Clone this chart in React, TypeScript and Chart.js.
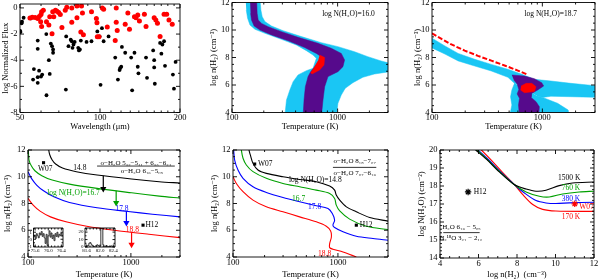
import React, { useEffect, useRef } from "react";
import { Chart, registerables } from "chart.js";

Chart.register(...registerables);

const W = 600;
const H = 279;
const FONT = "'Liberation Serif', 'DejaVu Serif', serif";
const CYAN = "#1ac6f4";
const PURPLE = "#560a8c";
const RED = "#ff0000";
const GREEN = "#00a000";
const BLUE = "#0000ff";
const BLACK = "#000000";

// ---------- Panel 1 : normalized fluxes ----------
const P1_BLACK_WL = [50.2, 50.1, 50.7, 50.9, 51.6, 54.9, 56.0, 56.4, 58.3, 58.3, 58.3, 58.3, 59.0, 60.0, 60.6, 62.9, 62.8, 64.2, 64.7, 65.3, 66.0, 66.6, 66.6, 74.4, 74.6, 76.1, 77.6, 78.3, 78.8, 79.5, 80.3, 82.8, 83.3, 84.0, 84.7, 89.0, 92.9, 97.7, 99.7, 101.7, 100.5, 103.2, 107.7, 114.1, 116.8, 118.5, 119.1, 120.2, 120.9, 124.4, 131.0, 132.1, 134.8, 138.7, 139.5, 149.0, 150.3, 158.5, 159.9, 159.9, 160.8, 168.3, 170.2, 171.7, 174.2, 175.6, 188.1, 189.8, 192.5];
const P1_BLACK_F = [-1.85, -1.75, -1.18, -1.05, -0.75, -0.8, -5.48, -4.68, -2.5, -3.13, -5.3, -5.73, -4.8, -5.25, -5.1, -6.68, -2.0, -4.0, -5.05, -2.73, -2.93, -3.18, -3.43, -6.25, -2.18, -2.93, -2.43, -2.55, -3.05, -2.8, -2.6, -3.05, -3.25, -3.18, -2.5, -2.6, -2.55, -1.8, -2.18, -1.55, -5.88, -2.55, -2.18, -3.8, -5.48, -4.75, -4.6, -4.5, -2.98, -3.43, -3.8, -6.3, -3.43, -4.5, -5.0, -3.8, -5.35, -3.25, -4.0, -4.55, -5.8, -2.68, -3.5, -2.8, -2.55, -4.43, -5.1, -6.18, -4.13];
const P1_RED_WL = [57.0, 58.3, 59.1, 60.0, 60.3, 61.2, 59.8, 60.3, 62.9, 64.2, 64.7, 66.0, 66.4, 67.0, 68.0, 68.9, 69.9, 70.9, 71.9, 74.0, 75.0, 78.3, 78.3, 81.9, 81.9, 85.2, 84.7, 85.9, 86.6, 92.9, 96.9, 97.4, 97.7, 99.1, 102.0, 103.2, 106.5, 115.1, 115.1, 116.1, 114.1, 127.3, 124.4, 129.1, 134.8, 136.7, 138.7, 140.7, 146.9, 149.0, 159.9, 162.2, 164.5, 168.3, 174.2, 178.2, 181.8, 187.0, 54.5, 55.6];
const P1_RED_F = [-0.73, -0.8, -0.65, -0.5, -0.3, -0.18, -1.05, -1.43, -1.05, -1.3, -0.68, -1.98, -0.3, -0.68, -0.18, -0.25, -0.35, -0.5, -1.5, -0.18, 0.05, 0.0, -1.1, 0.15, -0.75, 0.15, -1.85, -0.38, -2.05, -0.3, -0.8, -1.13, -2.2, -2.2, 0.0, -0.1, -1.45, 0.0, -1.1, -1.73, -2.5, -0.38, -1.25, -1.63, -0.68, -0.75, -0.55, -1.0, -0.48, -1.43, -0.75, -0.93, -1.18, -2.18, -0.48, -0.48, -0.93, -1.25, -0.78, -0.72];
const WL_LABELS = [50, 100, 200];
const FLUX_LABELS = [-8, -6, -4, -2, 0];

// ---------- Panel 2 : log N = 16.0 regions ----------
const P2_CYAN_T = [134.5, 183.7, 187.7, 193.3, 204.8, 236.7, 305, 454, 701, 1007, 1447, 1933, 2582, 3100, 3100, 2234, 1734, 1395, 1181, 1083, 1007, 971, 316, 328, 353, 379, 422, 506, 585, 629, 585, 506, 407, 294, 205, 165, 148, 140.5, 136.5];
const P2_CYAN_N = [12.3, 12.3, 11.45, 10.97, 10.61, 10.29, 9.95, 9.52, 9.08, 8.79, 8.42, 8.06, 7.75, 7.58, 6.97, 6.8, 6.56, 6.17, 5.76, 5.27, 4.67, 3.7, 3.7, 4.91, 5.64, 6.24, 6.73, 7.04, 7.21, 7.94, 8.18, 8.5, 8.91, 9.32, 9.76, 10.05, 10.36, 10.85, 11.45];
const P2_PURPLE_T = [148, 171, 173, 177, 190.5, 220, 294, 422, 652, 871, 1083, 1164, 1123, 1007, 811, 754, 727, 701, 471, 481, 495, 525, 556, 607, 676, 701, 629, 488, 340, 237, 184, 162, 153, 150];
const P2_PURPLE_N = [12.3, 12.3, 11.21, 10.73, 10.48, 10.24, 9.88, 9.47, 9.03, 8.67, 8.3, 7.82, 7.33, 6.97, 6.61, 5.88, 4.91, 3.7, 3.7, 4.91, 5.88, 6.61, 6.97, 7.33, 7.82, 8.06, 8.3, 8.72, 9.22, 9.64, 10.0, 10.29, 10.73, 11.21];
const P2_RED_T = [676, 754, 743, 676, 572, 556, 607, 652];
const P2_RED_N = [8.18, 8.0, 7.45, 7.09, 6.8, 6.9, 7.33, 7.75];

// ---------- Panel 3 : log N = 18.7 regions ----------
const P3_BAND_T = [98, 130.9, 172.7, 243.9, 344.7, 487.3, 642.4, 600, 559.4, 487.3, 344.7, 243.9, 172.7, 130.9, 98];
const P3_BAND_N = [9.45, 8.84, 8.3, 7.87, 7.5, 7.14, 6.8, 6.3, 6.12, 6.56, 7.02, 7.38, 7.75, 8.25, 8.73];
const P3_WING_T = [559.4, 642.4, 847.1, 1197, 1813, 3100, 3100, 1813, 1197, 1007, 900];
const P3_WING_N = [6.12, 6.8, 6.41, 6.29, 6.12, 5.94, 5.1, 5.15, 5.18, 5.1, 5.2];
const P3_LOW_T = [900, 1007, 1374, 1715, 1751, 504.4, 529.3, 514.9, 529.3, 559.4];
const P3_LOW_N = [5.2, 5.1, 4.67, 4.18, 3.7, 3.7, 4.55, 5.15, 5.64, 6.12];
const P3_PURPLE_T = [529.3, 688.4, 847.1, 986.3, 1028, 907.8, 801.6, 790.6, 877, 939.7, 926.8, 620.6, 607.8, 620.6, 591.2, 612.1, 591.2, 551.7];
const P3_PURPLE_N = [6.73, 6.65, 6.46, 6.17, 5.93, 5.64, 5.39, 5.1, 4.79, 4.42, 3.7, 3.7, 4.55, 5.03, 5.35, 5.68, 6.07, 6.36];
const P3_RED_T = [642, 713, 802, 877, 847, 688, 634];
const P3_RED_N = [5.93, 6.12, 6.12, 5.88, 5.52, 5.44, 5.64];
const P3_DASH_T = [100, 122, 150, 198, 261, 345, 455, 600, 738];
const P3_DASH_N = [9.76, 9.35, 8.95, 8.5, 8.12, 7.77, 7.42, 7.05, 6.75];

// ---------- Panel 4 : curves ----------
const P4_BLACK_T = [157.5, 159, 163, 171.8, 185.5, 216.5, 295, 469, 1015, 1887, 3000];
const P4_BLACK_N = [12.5, 12.0, 11.63, 11.25, 10.95, 10.65, 10.38, 10.13, 9.83, 9.63, 9.53];
const P4_GREEN_T = [100.5, 102.3, 108, 116.7, 136.2, 171.8, 252.7, 469, 1015, 1887, 3000];
const P4_GREEN_N = [12.3, 11.25, 10.8, 10.45, 10.08, 9.75, 9.45, 9.13, 8.8, 8.55, 8.4];
const P4_BLUE_T = [100, 108, 121.3, 141.6, 178.5, 252.7, 469, 940, 1619, 3000];
const P4_BLUE_N = [10.38, 9.88, 9.38, 8.95, 8.5, 8.08, 7.68, 7.4, 7.2, 7.0];
const P4_RED_T = [100, 112.3, 131, 165.3, 234, 372, 690, 1494, 3000];
const P4_RED_N = [8.38, 7.88, 7.43, 7.0, 6.63, 6.3, 6.0, 5.7, 5.45];
const P4_ARROW_T = [539, 719, 904, 1015];
const P4_ARROW_TOP = [10.08, 8.95, 7.42, 5.85];
const P4_ARROW_BOT = [9.1, 8.05, 6.55, 4.93];
const P4_MARK_T = [141.6, 1312];
const P4_MARK_N = [11.05, 6.38];

// insets of panel 4
const IN1_WL = [75.56, 75.59, 75.62, 75.65, 75.68, 75.71, 75.74, 75.77, 75.8, 75.83, 75.86, 75.89, 75.92, 75.95, 75.98, 76.01, 76.04, 76.07, 76.1, 76.13, 76.16, 76.19, 76.22, 76.25, 76.28, 76.31, 76.34, 76.37, 76.4, 76.43];
const IN1_F = [0.3, 0.6, 0.1, 0.8, 0.5, 0.2, 0.9, 0.6, 1.1, 0.4, 0.8, 0.2, -0.6, 0.7, -0.9, 0.5, 1.2, 0.3, 0.9, 0.1, 0.6, -0.2, 0.8, 0.4, 1.0, 0.3, 0.7, 0.5, 0.9, 0.4];
const IN2_WL = [81.56, 81.59, 81.62, 81.65, 81.68, 81.71, 81.74, 81.77, 81.8, 81.83, 81.86, 81.89, 81.92, 81.95, 81.98, 82.01, 82.04, 82.07, 82.1, 82.13, 82.16, 82.19, 82.22, 82.25, 82.28, 82.31, 82.34, 82.37, 82.4, 82.43];
const IN2_F = [1, 0.5, 1.5, 2, 5, 6, 4, 2, 1, 0.5, 1, 2, 3, 2, 1, 1.5, 26, 26, 3, 1, 0.5, 2, 1, 0.5, 1, 0.5, 1.5, 1, 0.5, 1];

// ---------- Panel 5 : curves ----------
const P5_BLACK_T = [140, 142, 146.3, 155.1, 173, 207.7, 299.5, 431.8, 621.7, 834, 930, 964, 1040, 1204, 1497, 2006, 3000];
const P5_BLACK_N = [12.5, 12.0, 11.63, 11.0, 10.5, 10.25, 10.0, 9.8, 9.63, 9.3, 9.0, 8.63, 8.25, 7.75, 7.38, 6.95, 6.68];
const P5_GREEN_T = [118.5, 120.1, 124.6, 134, 155.1, 207.7, 299.5, 431.8, 621.7, 834, 930, 964, 1040, 1293, 1864, 3000];
const P5_GREEN_N = [12.5, 12.0, 11.38, 10.88, 10.38, 9.88, 9.5, 9.25, 9.0, 8.75, 8.38, 7.88, 7.45, 6.83, 6.3, 6.05];
const P5_BLUE_T = [101.5, 103.7, 111.6, 124.6, 155.1, 207.7, 299.5, 431.8, 621.7, 804, 884, 930, 896, 930, 1118, 1497, 2158, 3000];
const P5_BLUE_N = [12.0, 11.25, 10.5, 9.88, 9.25, 8.83, 8.45, 8.13, 7.83, 7.63, 7.25, 6.75, 6.38, 6.2, 5.88, 5.55, 5.38, 5.25];
const P5_RED_T = [100, 107.6, 124.6, 155.1, 207.7, 299.5, 431.8, 621.7, 774.9, 852, 866, 834, 834, 896, 1118, 1497];
const P5_RED_N = [10.0, 9.5, 8.88, 8.25, 7.75, 7.38, 7.0, 6.63, 6.3, 5.95, 5.5, 5.0, 4.7, 4.58, 4.38, 4.0];
const P5_MARK_T = [160.9, 1497];
const P5_MARK_N = [10.95, 6.38];

// ---------- Panel 6 : column density vs density ----------
const P6_BLACK_X = [5.75, 5.858, 6.409, 7.097, 7.871, 8.473, 8.989, 9.505, 10.19, 10.88, 12];
const P6_BLACK_Y = [20.1, 20, 19.49, 18.77, 18.07, 17.83, 17.71, 17.76, 18.02, 18.17, 18.22];
const P6_GREEN_X = [5.82, 5.927, 6.443, 7.131, 7.871, 8.473, 9.161, 9.677, 10.37, 11.23, 12];
const P6_GREEN_Y = [20.1, 20, 19.49, 18.77, 18.07, 17.67, 17.43, 17.39, 17.56, 17.67, 17.71];
const P6_BLUE_X = [5.87, 5.978, 6.495, 7.166, 7.871, 8.387, 8.989, 9.505, 10.02, 10.71, 12];
const P6_BLUE_Y = [20.1, 20, 19.49, 18.77, 18.07, 17.61, 17.19, 17.06, 17.03, 17.06, 17.1];
const P6_RED_X = [6.05, 6.151, 6.615, 7.234, 7.871, 8.301, 8.817, 9.333, 10.02, 12];
const P6_RED_Y = [20.1, 20, 19.49, 18.77, 18.07, 17.52, 16.97, 16.7, 16.61, 16.59];
const P6_H12_X = [5.46];
const P6_H12_Y = [17.67];
const P6_W07_X = [11.0];
const P6_W07_Y = [17.01];

// ---------- ticks ----------
const T_TICKS = [100, 200, 300, 400, 500, 600, 700, 800, 900, 1000, 2000, 3000];
const T_LABELS = [100, 1000];
const N_LABELS = [4, 6, 8, 10, 12];
const COL_LABELS = [14, 15, 16, 17, 18, 19, 20];

function seq(a: number, b: number, s: number): number[] {
  const out: number[] = [];
  const n = Math.round((b - a) / s);
  for (let i = 0; i <= n; i++) out.push(+(a + i * s).toFixed(6));
  return out;
}
function pts(xs: number[], ys: number[]) {
  return xs.map((x, i) => ({ x, y: ys[i] }));
}

type Box = { l: number; t: number; r: number; b: number };
interface AxisSpec {
  type: "linear" | "logarithmic";
  min: number;
  max: number;
  ticks: number[];
  labels: number[];
  title?: string;
  fmt?: (v: number) => string;
}
interface PanelSpec {
  box: Box;
  yW: number;
  xH: number;
  x: AxisSpec;
  y: AxisSpec;
  datasets: any[];
  notes: any[];
  regions?: any[];
  size: number;
  noteSize: number;
  xPad: number;
  yPad: number;
  major: number;
  minor: number;
  bare?: boolean;
}

// fills polygon regions given in data units, through the chart's own scales, beneath the datasets
const regionsPlugin = {
  id: "regions",
  beforeDatasetsDraw(chart: any, _args: any, opts: any) {
    const items = opts.items || [];
    if (!items.length) return;
    const { ctx, chartArea: a } = chart;
    const xs = chart.scales.x;
    const ys = chart.scales.y;
    ctx.save();
    ctx.beginPath();
    ctx.rect(a.left, a.top, a.right - a.left, a.bottom - a.top);
    ctx.clip();
    for (const it of items) {
      const X: number[] = it.xs;
      const Y: number[] = it.ys;
      ctx.beginPath();
      for (let i = 0; i < X.length; i++) {
        const px = xs.getPixelForValue(X[i]);
        const py = ys.getPixelForValue(Y[i]);
        if (i === 0) ctx.moveTo(px, py);
        else ctx.lineTo(px, py);
      }
      ctx.closePath();
      ctx.fillStyle = it.color;
      ctx.fill();
      ctx.strokeStyle = it.color;
      ctx.lineWidth = 0.5;
      ctx.stroke();
    }
    ctx.restore();
  },
};

const framePlugin = {
  id: "frame",
  afterDatasetsDraw(chart: any, _args: any, opts: any) {
    if (opts.skip) return;
    const { ctx, chartArea: a } = chart;
    const xs = chart.scales.x;
    const ys = chart.scales.y;
    const maj = opts.major ?? 4;
    const mn = opts.minor ?? 2;
    ctx.save();
    ctx.strokeStyle = "#000";
    ctx.lineWidth = opts.lineWidth ?? 1;
    ctx.beginPath();
    ctx.rect(a.left, a.top, a.right - a.left, a.bottom - a.top);
    for (const t of xs.ticks) {
      const p = xs.getPixelForValue(t.value);
      if (p < a.left - 0.5 || p > a.right + 0.5) continue;
      const L = t.isMajor ? maj : mn;
      ctx.moveTo(p, a.bottom);
      ctx.lineTo(p, a.bottom - L);
      ctx.moveTo(p, a.top);
      ctx.lineTo(p, a.top + L);
    }
    for (const t of ys.ticks) {
      const p = ys.getPixelForValue(t.value);
      if (p < a.top - 0.5 || p > a.bottom + 0.5) continue;
      const L = t.isMajor ? maj : mn;
      ctx.moveTo(a.left, p);
      ctx.lineTo(a.left + L, p);
      ctx.moveTo(a.right, p);
      ctx.lineTo(a.right - L, p);
    }
    ctx.stroke();
    ctx.restore();
  },
};

const notesPlugin = {
  id: "notes",
  afterDatasetsDraw(chart: any, _args: any, opts: any) {
    const items = opts.items || [];
    const { ctx } = chart;
    const xs = chart.scales.x;
    const ys = chart.scales.y;
    ctx.save();
    for (const it of items) {
      const color = it.color || "#000";
      if (it.rule) {
        const y = ys.getPixelForValue(it.y);
        ctx.strokeStyle = color;
        ctx.lineWidth = 0.8;
        ctx.beginPath();
        ctx.moveTo(xs.getPixelForValue(it.x1), y);
        ctx.lineTo(xs.getPixelForValue(it.x2), y);
        ctx.stroke();
      } else {
        ctx.fillStyle = color;
        ctx.font = `${it.size || opts.size || 7.5}px ${FONT}`;
        ctx.textAlign = it.align || "center";
        ctx.textBaseline = "middle";
        ctx.fillText(it.text, xs.getPixelForValue(it.x), ys.getPixelForValue(it.y));
      }
    }
    ctx.restore();
  },
};

function makeAxis(o: AxisSpec, horizontal: boolean, size: number, fit: number, pad: number, bare: boolean) {
  const isLab = (v: number) => o.labels.some((l) => Math.abs(l - v) < 1e-9);
  return {
    type: o.type,
    min: o.min,
    max: o.max,
    position: horizontal ? "bottom" : "left",
    grid: { display: false, drawTicks: false },
    border: { display: false },
    ticks: {
      display: !bare,
      autoSkip: false,
      maxRotation: 0,
      minRotation: 0,
      padding: pad,
      color: "#000",
      font: { family: FONT, size },
      callback: (v: any) => {
        const n = Number(v);
        if (!isLab(n)) return "";
        return o.fmt ? o.fmt(n) : String(n);
      },
    },
    title:
      o.title && !bare
        ? {
            display: true,
            text: o.title,
            color: "#000",
            font: { family: FONT, size, lineHeight: 1 },
            padding: { top: 0, bottom: 0 },
          }
        : { display: false },
    afterBuildTicks: (s: any) => {
      s.ticks = o.ticks
        .filter((v) => v >= o.min - 1e-9 && v <= o.max + 1e-9)
        .map((v) => ({ value: v, isMajor: isLab(v) }));
    },
    afterFit: (s: any) => {
      if (horizontal) s.height = fit;
      else s.width = fit;
      s.paddingLeft = 0;
      s.paddingRight = 0;
      s.paddingTop = 0;
      s.paddingBottom = 0;
    },
  };
}

function makeConfig(s: PanelSpec): any {
  const bare = !!s.bare;
  return {
    type: "scatter",
    data: { datasets: s.datasets },
    options: {
      responsive: false,
      animation: false,
      devicePixelRatio: 1,
      events: [],
      layout: {
        padding: {
          left: s.box.l - s.yW,
          top: s.box.t,
          right: W - s.box.r,
          bottom: H - s.box.b - s.xH,
        },
      },
      plugins: {
        legend: { display: false },
        tooltip: { enabled: false },
        regions: { items: s.regions || [] },
        frame: { major: s.major, minor: s.minor, lineWidth: 0.9, skip: bare },
        notes: { items: s.notes, size: s.noteSize },
      },
      scales: {
        x: makeAxis(s.x, true, s.size, s.xH, s.xPad, bare),
        y: makeAxis(s.y, false, s.size, s.yW, s.yPad, bare),
      },
    },
    plugins: [regionsPlugin, framePlugin, notesPlugin],
  };
}

const poly = (xs: number[], ys: number[], color: string, order: number) => ({
  data: pts(xs, ys),
  showLine: true,
  fill: "shape",
  backgroundColor: color,
  borderColor: color,
  borderWidth: 0.5,
  pointRadius: 0,
  tension: 0,
  order,
});
const curve = (xs: number[], ys: number[], color: string, extra: any = {}) => ({
  data: pts(xs, ys),
  showLine: true,
  fill: false,
  borderColor: color,
  borderWidth: 1.1,
  pointRadius: 0,
  tension: 0.3,
  order: 1,
  ...extra,
});
const dots = (xs: number[], ys: number[], color: string, r: number, style = "circle", order = 0) => ({
  data: pts(xs, ys),
  showLine: false,
  pointRadius: r,
  pointStyle: style,
  pointBackgroundColor: color,
  pointBorderColor: color,
  pointBorderWidth: style === "star" ? 1.2 : 0,
  order,
});
function arrows(i: number, color: string) {
  return [
    curve([P4_ARROW_T[i], P4_ARROW_T[i]], [P4_ARROW_TOP[i], P4_ARROW_BOT[i]], color, { tension: 0, borderWidth: 1.2 }),
    {
      data: pts([P4_ARROW_T[i]], [P4_ARROW_BOT[i]]),
      showLine: false,
      pointRadius: 3.6,
      pointStyle: "triangle",
      pointRotation: 180,
      pointBackgroundColor: color,
      pointBorderColor: color,
      pointBorderWidth: 0,
      order: 0,
    },
  ];
}

const TEMP_AXIS: AxisSpec = { type: "logarithmic", min: 100, max: 3000, ticks: T_TICKS, labels: T_LABELS, title: "Temperature (K)" };
const NH2_AXIS: AxisSpec = { type: "linear", min: 4, max: 12, ticks: seq(4, 12, 0.5), labels: N_LABELS, title: "log n(H₂) (cm⁻³)" };
const BASE = { size: 8.5, noteSize: 7.5, xPad: 0.5, yPad: 2.5, major: 4, minor: 2 };
const P3_GEOM = { box: { l: 432, t: 2.5, r: 595, b: 112.5 }, yW: 18.25, xH: 18.75 };

const SPECS: PanelSpec[] = [
  {
    ...BASE,
    box: { l: 20, t: 2.5, r: 180, b: 112.5 },
    yW: 18.25,
    xH: 18.75,
    x: { type: "logarithmic", min: 50, max: 200, ticks: seq(50, 200, 10), labels: WL_LABELS, title: "Wavelength (μm)" },
    y: { type: "linear", min: -8, max: 0.3, ticks: seq(-8, 0, 1), labels: FLUX_LABELS, title: "log Normalized Flux" },
    datasets: [dots(P1_RED_WL, P1_RED_F, RED, 2.5, "circle", 1), dots(P1_BLACK_WL, P1_BLACK_F, BLACK, 1.9, "circle", 2)],
    notes: [],
  },
  {
    ...BASE,
    box: { l: 232, t: 2.5, r: 388, b: 112.5 },
    yW: 22.25,
    xH: 18.75,
    x: TEMP_AXIS,
    y: NH2_AXIS,
    datasets: [poly(P2_CYAN_T, P2_CYAN_N, CYAN, 3), poly(P2_PURPLE_T, P2_PURPLE_N, PURPLE, 2), poly(P2_RED_T, P2_RED_N, RED, 1)],
    notes: [{ x: 2250, y: 11.15, text: "log N(H₂O)=16.0", align: "right" }],
  },
  {
    ...BASE,
    ...P3_GEOM,
    bare: true,
    x: TEMP_AXIS,
    y: NH2_AXIS,
    datasets: [poly(P3_WING_T, P3_WING_N, CYAN, 2), poly(P3_LOW_T, P3_LOW_N, CYAN, 1)],
    notes: [],
  },
  {
    ...BASE,
    ...P3_GEOM,
    x: TEMP_AXIS,
    y: NH2_AXIS,
    regions: [{ xs: P3_BAND_T, ys: P3_BAND_N, color: CYAN }],
    datasets: [
      poly(P3_PURPLE_T, P3_PURPLE_N, PURPLE, 3),
      poly(P3_RED_T, P3_RED_N, RED, 2),
      curve(P3_DASH_T, P3_DASH_N, RED, { borderWidth: 2, borderDash: [5, 2], tension: 0, order: 1 }),
    ],
    notes: [{ x: 2066, y: 11.15, text: "log N(H₂O)=18.7", align: "right" }],
  },
  {
    ...BASE,
    box: { l: 28, t: 150, r: 180, b: 257 },
    yW: 24.25,
    xH: 21.85,
    x: TEMP_AXIS,
    y: NH2_AXIS,
    datasets: [
      curve(P4_BLACK_T, P4_BLACK_N, BLACK),
      curve(P4_GREEN_T, P4_GREEN_N, GREEN),
      curve(P4_BLUE_T, P4_BLUE_N, BLUE),
      curve(P4_RED_T, P4_RED_N, RED),
      ...arrows(0, BLACK),
      ...arrows(1, GREEN),
      ...arrows(2, BLUE),
      ...arrows(3, RED),
      dots(P4_MARK_T, P4_MARK_N, BLACK, 2.2, "rect"),
    ],
    notes: [
      { x: 319, y: 10.63, text: "14.8" },
      { x: 277, y: 8.75, text: "log N(H₂O)=16.7", color: GREEN },
      { x: 819, y: 7.55, text: "17.8", color: BLUE },
      { x: 1033, y: 6.0, text: "18.8", color: RED },
      { x: 147, y: 10.6, text: "W07" },
      { x: 1385, y: 6.38, text: "H12", align: "left" },
      { x: 1115, y: 11.05, text: "o−H₂O 5₃₂−5₄₁ + 6₃₃−6₂₄", size: 7 },
      { rule: true, x1: 469, x2: 2670, y: 10.8 },
      { x: 1279, y: 10.43, text: "o−H₂O 6₁₆−5₀₅", size: 7 },
    ],
  },
  {
    ...BASE,
    box: { l: 233, t: 150, r: 388, b: 257 },
    yW: 22.25,
    xH: 21.85,
    x: TEMP_AXIS,
    y: NH2_AXIS,
    datasets: [
      curve(P5_BLACK_T, P5_BLACK_N, BLACK),
      curve(P5_GREEN_T, P5_GREEN_N, GREEN),
      curve(P5_BLUE_T, P5_BLUE_N, BLUE),
      curve(P5_RED_T, P5_RED_N, RED),
      dots(P5_MARK_T, P5_MARK_N, BLACK, 2.2, "rect"),
    ],
    notes: [
      { x: 173, y: 10.95, text: "W07", align: "left" },
      { x: 609, y: 9.75, text: "log N(H₂O)=14.8" },
      { x: 422, y: 8.3, text: "16.7", color: GREEN },
      { x: 600, y: 7.75, text: "17.8", color: BLUE },
      { x: 747, y: 4.25, text: "18.8", color: RED },
      { x: 1612, y: 6.38, text: "H12", align: "left" },
      { x: 1444, y: 11.13, text: "o−H₂O 8₁₈−7₀₇", size: 7 },
      { rule: true, x1: 896, x2: 2320, y: 10.7 },
      { x: 1444, y: 10.25, text: "o−H₂O 7₀₇−6₁₆", size: 7 },
    ],
  },
  {
    ...BASE,
    box: { l: 440, t: 150, r: 594, b: 258 },
    yW: 22.25,
    xH: 20.85,
    x: { type: "linear", min: 4, max: 12, ticks: seq(4, 12, 0.5), labels: N_LABELS, title: "log n(H₂)  (cm⁻³)" },
    y: { type: "linear", min: 14, max: 20, ticks: seq(14, 20, 0.2), labels: COL_LABELS, title: "log N(H₂O) (cm⁻²)" },
    datasets: [
      curve(P6_BLACK_X, P6_BLACK_Y, BLACK),
      curve(P6_GREEN_X, P6_GREEN_Y, GREEN),
      curve(P6_BLUE_X, P6_BLUE_Y, BLUE),
      curve(P6_RED_X, P6_RED_Y, RED),
      dots(P6_H12_X, P6_H12_Y, BLACK, 3.2, "star"),
      dots(P6_W07_X, P6_W07_Y, RED, 3.2, "star"),
    ],
    notes: [
      { x: 10.71, y: 18.44, text: "1500 K" },
      { x: 10.8, y: 17.89, text: "760 K", color: GREEN },
      { x: 10.8, y: 17.28, text: "380 K", color: BLUE },
      { x: 10.8, y: 16.28, text: "170 K", color: RED },
      { x: 11.23, y: 16.83, text: "W07", color: RED, align: "left" },
      { x: 5.75, y: 17.67, text: "H12", align: "left" },
      { x: 5.12, y: 15.69, text: "H₂O 6₁₆ − 5₀₅", size: 7 },
      { rule: true, x1: 4.17, x2: 6.06, y: 15.41 },
      { x: 5.08, y: 15.08, text: "H₂¹⁸O 3₂₁ − 2₁₂", size: 7 },
    ],
  },
  {
    size: 5,
    noteSize: 5,
    xPad: 0.3,
    yPad: 1.5,
    major: 2.5,
    minor: 1.5,
    box: { l: 33.5, t: 228, r: 63, b: 247 },
    yW: 6,
    xH: 7,
    x: { type: "linear", min: 75.55, max: 76.45, ticks: seq(75.6, 76.4, 0.1), labels: [75.6, 76.0, 76.4], fmt: (v) => v.toFixed(1) },
    y: { type: "linear", min: -1.1, max: 1.6, ticks: seq(-1, 1.5, 0.5), labels: [-1, 0, 1] },
    datasets: [curve(IN1_WL, IN1_F, BLACK, { tension: 0, stepped: "middle", borderWidth: 0.8 })],
    notes: [],
  },
  {
    size: 5,
    noteSize: 5,
    xPad: 0.3,
    yPad: 1.5,
    major: 2.5,
    minor: 1.5,
    box: { l: 85, t: 228, r: 115, b: 247 },
    yW: 8,
    xH: 7,
    x: { type: "linear", min: 81.55, max: 82.45, ticks: seq(81.6, 82.4, 0.1), labels: [81.6, 82.0, 82.4], fmt: (v) => v.toFixed(1) },
    y: { type: "linear", min: 0, max: 25.5, ticks: seq(0, 25, 5), labels: [0, 10, 20] },
    datasets: [curve(IN2_WL, IN2_F, BLACK, { tension: 0, stepped: "middle", borderWidth: 0.8 })],
    notes: [],
  },
];

function ChartLayer({ spec }: { spec: PanelSpec }) {
  const ref = useRef<HTMLCanvasElement>(null);
  useEffect(() => {
    if (!ref.current) return;
    const chart = new Chart(ref.current, makeConfig(spec));
    return () => chart.destroy();
  }, [spec]);
  return (
    <canvas
      ref={ref}
      width={W}
      height={H}
      style={{ position: "absolute", left: 0, top: 0, width: W, height: H }}
    />
  );
}

export default function App() {
  return (
    <div style={{ position: "fixed", left: 0, top: 0, width: W, height: H, background: "#fff", overflow: "hidden" }}>
      {SPECS.map((s, i) => (
        <ChartLayer key={i} spec={s} />
      ))}
    </div>
  );
}
